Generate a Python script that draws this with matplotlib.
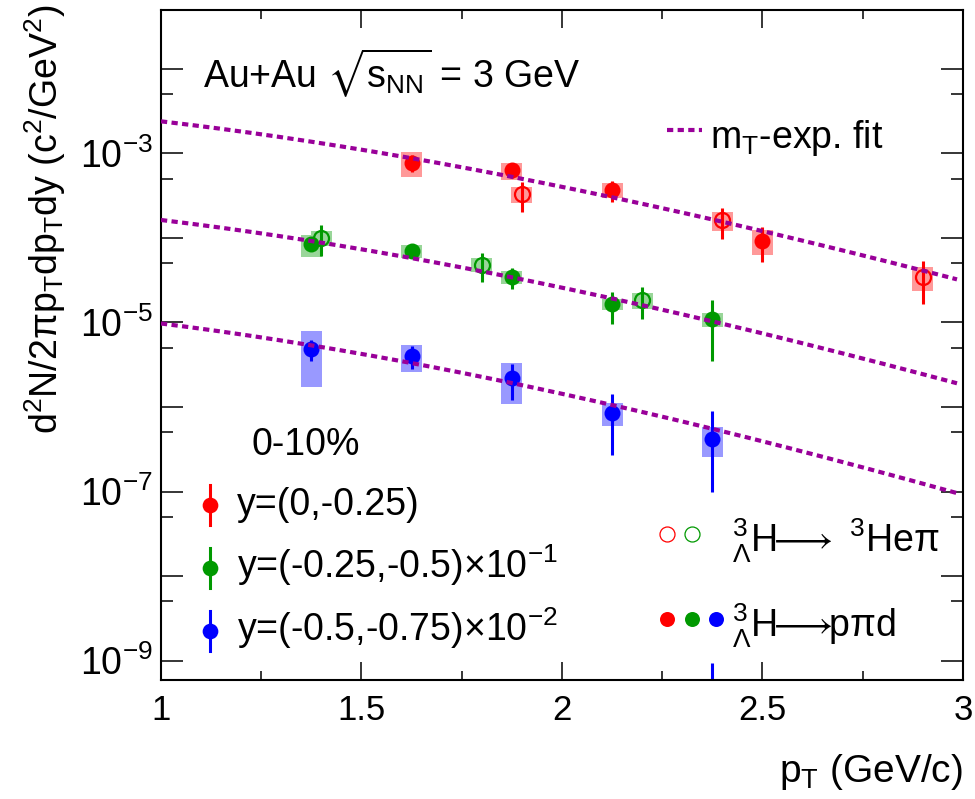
import numpy as np
import matplotlib
matplotlib.use('Agg')
import matplotlib.pyplot as plt
from matplotlib.patches import Rectangle
from matplotlib.ticker import FixedLocator, FixedFormatter

plt.rcParams['font.family'] = ['Liberation Sans', 'DejaVu Sans']
plt.rcParams['mathtext.fontset'] = 'custom'
plt.rcParams['mathtext.rm'] = 'Liberation Sans'
plt.rcParams['mathtext.it'] = 'Liberation Sans:italic'
plt.rcParams['mathtext.default'] = 'regular'
plt.rcParams['mathtext.fallback'] = 'stix'

# hypertriton mass (GeV/c^2), used in the mT-exponential
m_ht = 2.991

# rapidity bins and the factor each one is scaled by on the plot
bin_scale = [1.0, 0.1, 0.01]
bin_color = ['#ff0000', '#009900', '#0000ff']
bin_box = ['#ff9999', '#99d699', '#9999ff']

# 3LH -> p pi d (filled), y = (0,-0.25)
pt_pid_0 = [1.625, 1.875, 2.125, 2.5]
val_pid_0 = [7.74e-4, 6.34e-4, 3.68e-4, 9.25e-5]
stat_pid_0 = [1.7e-4, 1.2e-4, 1.05e-4, 4.1e-5]
sys_pid_0 = [2.55e-4, 1.45e-4, 7.5e-5, 3.05e-5]

# 3LH -> 3He pi (open), y = (0,-0.25)
pt_hepi_0 = [1.9, 2.4, 2.9]
val_hepi_0 = [3.27e-4, 1.61e-4, 3.47e-5]
stat_hepi_0 = [1.27e-4, 6.3e-5, 1.8e-5]
sys_hepi_0 = [7.0e-5, 4.1e-5, 1.1e-5]

# 3LH -> p pi d, y = (-0.25,-0.5)
pt_pid_1 = [1.375, 1.625, 1.875, 2.125, 2.375]
val_pid_1 = [8.45e-4, 7.03e-4, 3.47e-4, 1.63e-4, 1.09e-4]
stat_pid_1 = [1.0e-4, 6.0e-5, 9.5e-5, 6.8e-5, 7.4e-5]
sys_pid_1 = [2.5e-4, 1.25e-4, 6.2e-5, 2.4e-5, 2.1e-5]

# 3LH -> 3He pi, y = (-0.25,-0.5)
pt_hepi_1 = [1.4, 1.8, 2.2]
val_hepi_1 = [1.01e-3, 4.81e-4, 1.84e-4]
stat_hepi_1 = [4.0e-4, 1.8e-4, 7.5e-5]
sys_hepi_1 = [2.0e-4, 9.0e-5, 4.0e-5]

# 3LH -> p pi d, y = (-0.5,-0.75); last point has asymmetric stat error
pt_pid_2 = [1.375, 1.625, 1.875, 2.125, 2.375]
val_pid_2 = [4.83e-4, 4.03e-4, 2.21e-4, 8.51e-5, 4.19e-5]
stat_lo_pid_2 = [1.35e-4, 1.2e-4, 1.0e-4, 5.8e-5, 3.2e-5]
stat_hi_pid_2 = [1.35e-4, 1.2e-4, 1.0e-4, 5.8e-5, 4.8e-5]
sys_pid_2 = [3.1e-4, 1.42e-4, 1.12e-4, 2.6e-5, 1.63e-5]
# tail of the last point's error bar that reappears at the bottom of the log axis
tail_top_pid_2 = 9.3e-8

# mT-exponential fit: A * exp(-(mT - m)/T), unscaled
fit_A = [4.6e-3, 3.2e-3, 1.96e-3]
fit_T = [0.249, 0.241, 0.232]
fit_range = [1.0, 2.985]

bw = 0.026  # half width of the systematic boxes in pT

fig = plt.figure(figsize=(9.75, 7.99), dpi=100)
ax = fig.add_axes([0.1651, 0.1489, 0.8226, 0.8386])
ax.set_yscale('log')
ax.set_xlim(1, 3)
ax.set_ylim(10**-9.23, 10**-1.304)


def draw_points(pt, val, elo, ehi, sys, ib, filled):
    s = bin_scale[ib]
    for x, v, e in zip(pt, val, sys):
        ax.add_patch(Rectangle((x - bw, (v - e) * s), 2 * bw, 2 * e * s,
                               facecolor=bin_box[ib], edgecolor='none', zorder=1))
    v = np.array(val) * s
    ax.errorbar(pt, v, yerr=[np.array(elo) * s, np.array(ehi) * s], fmt='none',
                ecolor=bin_color[ib], elinewidth=2.2, capsize=0, zorder=2)
    if filled:
        ax.plot(pt, v, 'o', ms=11.5, mfc=bin_color[ib], mec=bin_color[ib], mew=0, zorder=3)
    else:
        ax.plot(pt, v, 'o', ms=10.8, mfc='none', mec=bin_color[ib], mew=1.6, zorder=3)


draw_points(pt_pid_0, val_pid_0, stat_pid_0, stat_pid_0, sys_pid_0, 0, True)
draw_points(pt_hepi_0, val_hepi_0, stat_hepi_0, stat_hepi_0, sys_hepi_0, 0, False)
draw_points(pt_pid_1, val_pid_1, stat_pid_1, stat_pid_1, sys_pid_1, 1, True)
draw_points(pt_hepi_1, val_hepi_1, stat_hepi_1, stat_hepi_1, sys_hepi_1, 1, False)
draw_points(pt_pid_2, val_pid_2, stat_lo_pid_2, stat_hi_pid_2, sys_pid_2, 2, True)
ax.vlines(pt_pid_2[-1], 1e-10, tail_top_pid_2 * bin_scale[2], color=bin_color[2],
          lw=2.2, zorder=2)

# fits
fit_style = dict(color='#990099', lw=3.0, dashes=(1.5, 1.05), dash_capstyle='butt', zorder=4)
pt_fit = np.linspace(fit_range[0], fit_range[1], 300)
mt_fit = np.sqrt(pt_fit**2 + m_ht**2)
for A, T, s in zip(fit_A, fit_T, bin_scale):
    ax.plot(pt_fit, A * s * np.exp(-(mt_fit - m_ht) / T), **fit_style)

# axes styling
for sp in ax.spines.values():
    sp.set_linewidth(1.5)
ax.xaxis.set_major_locator(FixedLocator([1, 1.5, 2, 2.5, 3]))
ax.xaxis.set_minor_locator(FixedLocator([1.25, 1.75, 2.25, 2.75]))
ax.set_xticklabels(['1', '1.5', '2', '2.5', '3'])
ydec = list(range(-9, -1))
ax.yaxis.set_major_locator(FixedLocator([10.0**k for k in ydec]))
ax.yaxis.set_major_formatter(FixedFormatter(
    [r'$10^{%d}$' % k if k % 2 else '' for k in ydec]))
ax.yaxis.set_minor_locator(FixedLocator([5 * 10.0**k for k in range(-10, -1)]))
ax.tick_params(which='both', direction='in', top=True, right=True, width=1.1)
ax.tick_params(axis='x', which='major', length=13, labelsize=25, pad=10)
ax.tick_params(axis='x', which='minor', length=6.5)
ax.tick_params(axis='y', which='major', length=16, labelsize=27, pad=6)
ax.tick_params(axis='y', which='minor', length=8.6, labelleft=False)

fig.text(0.046, 0.994, r'd$^{2}$N/2$\pi$p$_{T}$dp$_{T}$dy (c$^{2}$/GeV$^{2}$)',
         rotation=90, ha='center', va='top', fontsize=27)
fig.text(0.9877, 0.0213, r'p$_{T}$ (GeV/c)', ha='right', va='baseline', fontsize=28)

ax.text(0.052, 0.885, r'Au+Au $\sqrt{s_{NN}}$ = 3 GeV', transform=ax.transAxes,
        va='baseline', fontsize=27)

# fit legend
ax.plot([0.631, 0.675], [0.821, 0.821], transform=ax.transAxes, **fit_style)
ax.text(0.685, 0.794, r'm$_{T}$-exp. fit', transform=ax.transAxes,
        va='baseline', fontsize=27)

# rapidity legend
ax.text(0.113, 0.336, '0-10%', transform=ax.transAxes, va='baseline', fontsize=27)
leg_y = [0.261, 0.167, 0.073]
leg_txt = ['y=(0,-0.25)', r'y=(-0.25,-0.5)$\times$10$^{-1}$',
           r'y=(-0.5,-0.75)$\times$10$^{-2}$']
for ib, (yy, t) in enumerate(zip(leg_y, leg_txt)):
    ax.plot([0.061, 0.061], [yy - 0.03, yy + 0.03], transform=ax.transAxes,
            color=bin_color[ib], lw=2.2)
    ax.plot([0.061], [yy], 'o', transform=ax.transAxes, ms=11.3,
            color=bin_color[ib], mew=0)
    ax.text(0.095, yy - 0.015, t, transform=ax.transAxes, va='baseline', fontsize=27)

# decay channel legend
for ib, xx in enumerate([0.631, 0.662]):
    ax.plot([xx], [0.218], 'o', transform=ax.transAxes, ms=10.8, mfc='none',
            mec=bin_color[ib], mew=0.9)
for ib, xx in enumerate([0.631, 0.662, 0.692]):
    ax.plot([xx], [0.091], 'o', transform=ax.transAxes, ms=10.8,
            color=bin_color[ib], mew=0)
ax.text(0.712, 0.190, r'${}^{3}_{\Lambda}$H$\!\!\longrightarrow$ $^{3}$He$\pi$',
        transform=ax.transAxes, va='baseline', fontsize=27)
ax.text(0.712, 0.063, r'${}^{3}_{\Lambda}$H$\!\!\longrightarrow\!\!$p$\pi$d',
        transform=ax.transAxes, va='baseline', fontsize=27)

fig.savefig('out.png', dpi=100)
